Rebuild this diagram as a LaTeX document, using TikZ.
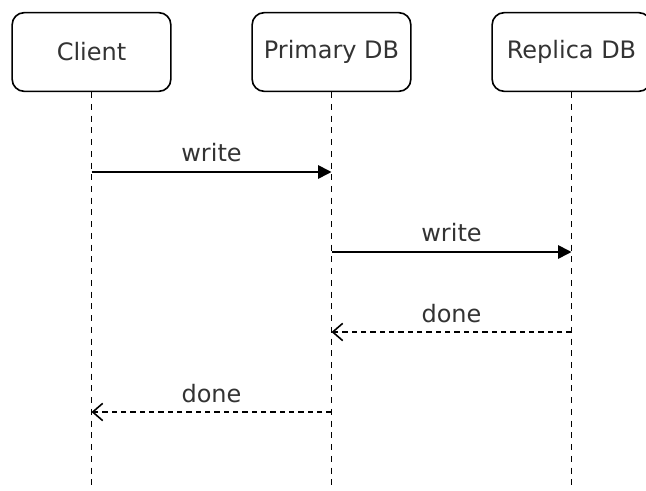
\documentclass[tikz,border=0pt]{standalone}
\usepackage{fontspec}
\setmainfont{DejaVu Sans}
\usetikzlibrary{arrows.meta,calc}
\definecolor{txt}{HTML}{333333}
\begin{document}
\begin{tikzpicture}[x=0.75pt,y=-0.75pt,
  actor/.style={draw=black, line width=1.2pt, rounded corners=9pt, fill=white,
    minimum width=119pt, minimum height=59pt, inner sep=0pt,
    font=\fontsize{18pt}{21pt}\selectfont, text=txt},
  lifeline/.style={line width=1.2pt, dash pattern=on 4.5pt off 4.3pt},
  callmsg/.style={line width=1.2pt, -{Triangle[length=10pt,width=10pt]}},
  replymsg/.style={line width=1.2pt, dash pattern=on 3.8pt off 3.2pt,
    -{Straight Barb[length=7.5pt,width=13pt,line width=1.2pt]}},
  msglabel/.style={anchor=base, font=\fontsize{18pt}{21pt}\selectfont, text=txt, inner sep=0pt}]
  \useasboundingbox (0,0) rectangle (646,491);

  % participants
  \node[actor] (client)  at (91.5,52)  {\raisebox{-1pt}{Client}};
  \node[actor] (primary) at (331.5,52) {\raisebox{-1pt}{Primary DB}};
  \node[actor] (replica) at (571.5,52) {\raisebox{-1pt}{Replica DB}};

  % lifeline ends
  \coordinate (clientEnd)  at (91.5,491);
  \coordinate (primaryEnd) at (331.5,491);
  \coordinate (replicaEnd) at (571.5,491);

  \draw[lifeline] (client.south)  -- (clientEnd);
  \draw[lifeline] (primary.south) -- (primaryEnd);
  \draw[lifeline] (replica.south) -- (replicaEnd);

  % message anchor points on the lifelines
  \coordinate (c1) at (91.5,172);
  \coordinate (p1) at (331.5,172);
  \coordinate (p2) at (331.5,252);
  \coordinate (r2) at (571.5,252);
  \coordinate (r3) at (571.5,332);
  \coordinate (p3) at (331.5,332);
  \coordinate (p4) at (331.5,412);
  \coordinate (c4) at (91.5,412);

  % messages
  \draw[callmsg] (c1) -- (p1) node[msglabel, midway, yshift=7.5pt] (w1) {write};
  \draw[callmsg] (p2) -- (r2) node[msglabel, midway, yshift=7.5pt] (w2) {write};
  \draw[replymsg] (r3) -- (p3) node[msglabel, midway, yshift=7pt] (d1) {done};
  \draw[replymsg] (p4) -- (c4) node[msglabel, midway, yshift=7pt] (d2) {done};
\end{tikzpicture}
\end{document}
